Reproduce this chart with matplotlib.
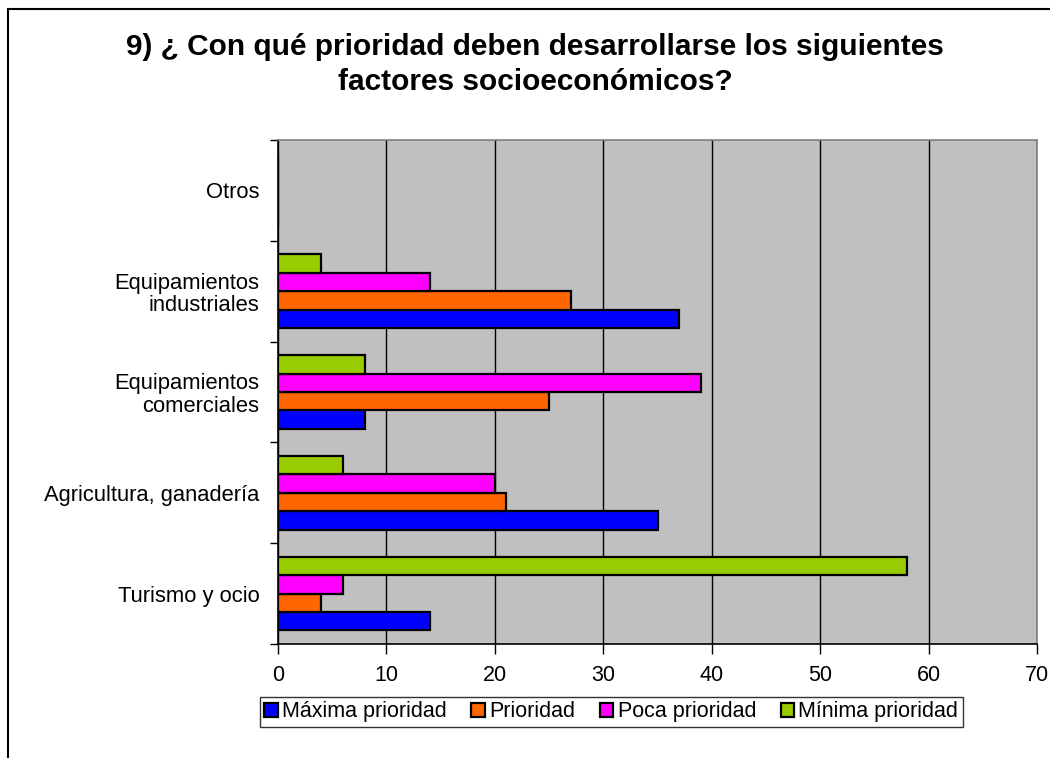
import numpy as np
import matplotlib.pyplot as plt
from matplotlib.lines import Line2D

plt.rcParams['font.family'] = ['Liberation Sans', 'DejaVu Sans']

# Datos
categorias = ['Turismo y ocio', 'Agricultura, ganadería', 'Equipamientos\ncomerciales',
              'Equipamientos\nindustriales', 'Otros']
series = ['Máxima prioridad', 'Prioridad', 'Poca prioridad', 'Mínima prioridad']
maxima = [14, 35, 8, 37, 0]
prioridad = [4, 21, 25, 27, 0]
poca = [6, 20, 39, 14, 0]
minima = [58, 6, 8, 4, 0]
colores = ['#0000FF', '#FF6600', '#FF00FF', '#99CC00']
titulo = ['9) ¿ Con qué prioridad deben desarrollarse los siguientes',
          'factores socioeconómicos?']

W, H = 1050, 758
fig = plt.figure(figsize=(10.5, 7.58), dpi=100)
ax = fig.add_axes([278 / W, 1 - 644 / H, (1037 - 278) / W, (644 - 140) / H])
ax.set_facecolor('#C0C0C0')

y = np.arange(len(categorias))
h = 0.183
valores = [maxima, prioridad, poca, minima]
for i, (vals, col, nombre) in enumerate(zip(valores, colores, series)):
    ax.barh(y + (i - 1.5) * h, vals, height=h, color=col, edgecolor='black',
            linewidth=1.6, label=nombre, zorder=3)

ax.set_xlim(0, 70)
ax.set_ylim(-0.5, len(categorias) - 0.5)
ax.set_xticks(range(0, 71, 10))
ax.xaxis.grid(True, color='black', linewidth=1.0, zorder=1)
ax.tick_params(axis='x', direction='out', length=7, width=1, pad=8, labelsize=15.5)

# marcas de separación entre categorías, etiquetas en el centro
ax.set_yticks(np.arange(-0.5, len(categorias), 1.0))
ax.set_yticklabels([])
ax.set_yticks(y, minor=True)
ax.set_yticklabels(categorias, minor=True, fontsize=15.8, linespacing=1.1)
ax.tick_params(axis='y', which='major', direction='out', length=6, width=1)
ax.tick_params(axis='y', which='minor', length=0, pad=13.5)

for s in ['left', 'bottom']:
    ax.spines[s].set_color('black')
    ax.spines[s].set_linewidth(1.2)
for s in ['top', 'right']:
    ax.spines[s].set_color('#808080')
    ax.spines[s].set_linewidth(1.2)

# título en dos líneas
fig.text(535 / W, 1 - 55 / H, titulo[0], ha='center', va='baseline', fontsize=21.5,
         fontweight='bold')
fig.text(535 / W, 1 - 90 / H, titulo[1], ha='center', va='baseline', fontsize=21.5,
         fontweight='bold')

leg = fig.legend(loc='upper left', bbox_to_anchor=(260 / W, 1 - 697 / H), ncol=4,
                 fontsize=15.5, frameon=True, fancybox=False, edgecolor='black',
                 handlelength=0.62, handleheight=0.62, handletextpad=0.2,
                 columnspacing=1.15, borderpad=0.2, borderaxespad=0)
leg.get_frame().set_linewidth(1.0)

# marco exterior del gráfico
fig.add_artist(Line2D([8 / W, 1], [1 - 9 / H, 1 - 9 / H], color='black', linewidth=1.5))
fig.add_artist(Line2D([8 / W, 8 / W], [0, 1 - 9 / H], color='black', linewidth=1.5))

fig.savefig('out.png', dpi=100)
